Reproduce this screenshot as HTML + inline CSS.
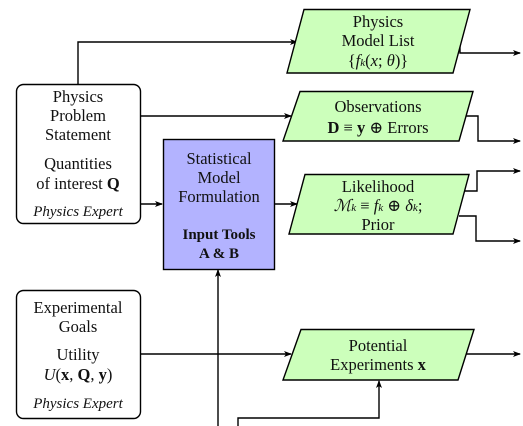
<!DOCTYPE html>
<html><head><meta charset="utf-8"><style>
html,body{margin:0;padding:0;background:#fff;}
svg{display:block;}
text{font-family:"Liberation Serif","DejaVu Serif",serif;font-size:16.5px;fill:#111;}
.b{font-weight:bold;}
.i{font-style:italic;}
</style></head><body>
<svg width="523" height="426" viewBox="0 0 523 426">
<defs><marker id="ah" markerWidth="8" markerHeight="8" refX="7" refY="4" orient="auto" markerUnits="userSpaceOnUse"><path d="M0,1 L8,4 L0,7 L2,4 Z" fill="#000"/></marker></defs>
<g fill="none" stroke="#000" stroke-width="1.4" marker-end="url(#ah)">
<polyline points="78,84 78,42 297,42"/>
<polyline points="140,116 291,116"/>
<polyline points="140,204 162,204"/>
<polyline points="274,204 297,204"/>
<polyline points="460,42 460,53 520,53"/>
<polyline points="465,116 478,116 478,141 520,141"/>
<polyline points="463,191 477,191 477,171 520,171"/>
<polyline points="459,216 476,216 476,241 520,241"/>
<polyline points="140,354 291,354"/>
<polyline points="464,354 520,354"/>
<polyline points="218,426 218,270"/>
<polyline points="238,426 238,418 379,418 379,381"/>
</g>
<g>
<rect x="16.5" y="84.5" width="124" height="139" rx="7" fill="#fff" stroke="#000" stroke-width="1.4"/>
<text x="78" y="102" text-anchor="middle">Physics</text>
<text x="78" y="121" text-anchor="middle">Problem</text>
<text x="78" y="140" text-anchor="middle">Statement</text>
<text x="78" y="169" text-anchor="middle">Quantities</text>
<text x="78" y="189" text-anchor="middle">of interest <tspan class="b">Q</tspan></text>
<text x="78" y="216" text-anchor="middle" class="i" style="font-size:15px">Physics Expert</text>
</g>
<g>
<rect x="16.5" y="290.5" width="124" height="128" rx="7" fill="#fff" stroke="#000" stroke-width="1.4"/>
<text x="78" y="313" text-anchor="middle">Experimental</text>
<text x="78" y="332" text-anchor="middle">Goals</text>
<text x="78" y="360" text-anchor="middle">Utility</text>
<text x="78" y="380" text-anchor="middle"><tspan class="i">U</tspan>(<tspan class="b">x</tspan>, <tspan class="b">Q</tspan>, <tspan class="b">y</tspan>)</text>
<text x="78" y="408" text-anchor="middle" class="i" style="font-size:15px">Physics Expert</text>
</g>
<g>
<rect x="163.5" y="139.5" width="111" height="130" fill="#b3b3ff" stroke="#000" stroke-width="1.4"/>
<text x="219" y="164" text-anchor="middle">Statistical</text>
<text x="219" y="183" text-anchor="middle">Model</text>
<text x="219" y="202" text-anchor="middle">Formulation</text>
<text x="219" y="239" text-anchor="middle" class="b" style="font-size:15px">Input Tools</text>
<text x="219" y="258" text-anchor="middle" class="b" style="font-size:15px">A &amp; B</text>
</g>
<g stroke="#000" stroke-width="1.4" fill="#ccffbb">
<g>
<polygon points="304,9.5 470,9.5 453,73 287,73"/>
<text x="378" y="27" text-anchor="middle" stroke="none">Physics</text>
<text x="378" y="46" text-anchor="middle" stroke="none">Model List</text>
<text x="378" y="66" text-anchor="middle" stroke="none">{<tspan class="i">f</tspan><tspan class="i" style="font-size:11px">k</tspan>(<tspan class="i">x</tspan>; <tspan class="i">θ</tspan>)}</text>
</g>
<g>
<polygon points="300,91.5 473,91.5 459,141 283,141"/>
<text x="378" y="112" text-anchor="middle" stroke="none">Observations</text>
<text x="378" y="133" text-anchor="middle" stroke="none"><tspan class="b">D</tspan> ≡ <tspan class="b">y</tspan> ⊕ Errors</text>
</g>
<g>
<polygon points="305,174.5 469,174.5 453,234 289,234"/>
<text x="378" y="192" text-anchor="middle" stroke="none">Likelihood</text>
<text x="378" y="211" text-anchor="middle" stroke="none"><tspan class="i">ℳ</tspan><tspan class="i" style="font-size:11px">k</tspan> ≡ <tspan class="i">f</tspan><tspan class="i" style="font-size:11px">k</tspan> ⊕ <tspan class="i">δ</tspan><tspan class="i" style="font-size:11px">k</tspan>;</text>
<text x="378" y="230" text-anchor="middle" stroke="none">Prior</text>
</g>
<g>
<polygon points="301,329.5 474,329.5 458,380 283,380"/>
<text x="378" y="351" text-anchor="middle" stroke="none">Potential</text>
<text x="378" y="370" text-anchor="middle" stroke="none">Experiments <tspan class="b">x</tspan></text>
</g>
</g>
</svg>
</body></html>
